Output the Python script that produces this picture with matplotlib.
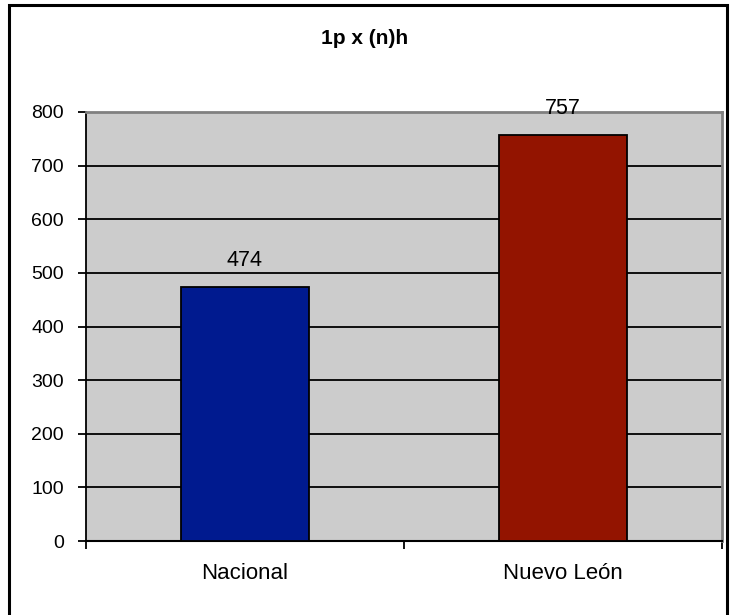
import matplotlib.pyplot as plt
from matplotlib.patches import Rectangle

# chart data
categories = ['Nacional', 'Nuevo León']
values = [474, 757]
bar_colors = ['#001A8F', '#931400']
title = '1p x (n)h'
yticks = [0, 100, 200, 300, 400, 500, 600, 700, 800]

plt.rcParams['font.family'] = ['Liberation Sans', 'DejaVu Sans']

fig = plt.figure(figsize=(7.3, 6.15), dpi=100)
# outer frame (bottom edge sits just off the image)
fig.patches.append(Rectangle((0.013, -0.01), 0.983, 1.002, transform=fig.transFigure,
                             fill=False, edgecolor='black', linewidth=2.2))

ax = fig.add_axes([0.1178, 0.1203, 0.8712, 0.6976])
ax.set_facecolor('#CCCCCC')

x = range(len(categories))
bars = ax.bar(x, values, width=0.4, color=bar_colors, edgecolor='black', linewidth=1.3, zorder=3)

ax.set_xlim(-0.5, len(categories) - 0.5)
ax.set_ylim(0, 800)
ax.set_yticks(yticks)
ax.yaxis.grid(True, color='black', linewidth=1.3, zorder=1)
ax.set_axisbelow(True)

# category ticks at boundaries, labels centered
ax.set_xticks([-0.5, 0.5, 1.5])
ax.set_xticklabels([])
ax.set_xticks(list(x), minor=True)
ax.set_xticklabels(categories, minor=True)
ax.tick_params(axis='x', which='minor', length=0, pad=16, labelsize=16)
ax.tick_params(axis='x', which='major', length=6, width=1.3, direction='out')
ax.tick_params(axis='y', length=6, width=1.3, labelsize=14, pad=10)

for side in ['top', 'right']:
    ax.spines[side].set_color('#808080')
    ax.spines[side].set_linewidth(2)
ax.spines['left'].set_linewidth(1.3)
ax.spines['bottom'].set_linewidth(1.5)

for b, v in zip(bars, values):
    ax.text(b.get_x() + b.get_width() / 2, v + 30, str(v), ha='center', va='bottom', fontsize=15.5)

fig.text(0.5, 0.938, title, ha='center', va='center', fontsize=15, fontweight='bold')

fig.savefig('out.png', dpi=100)
